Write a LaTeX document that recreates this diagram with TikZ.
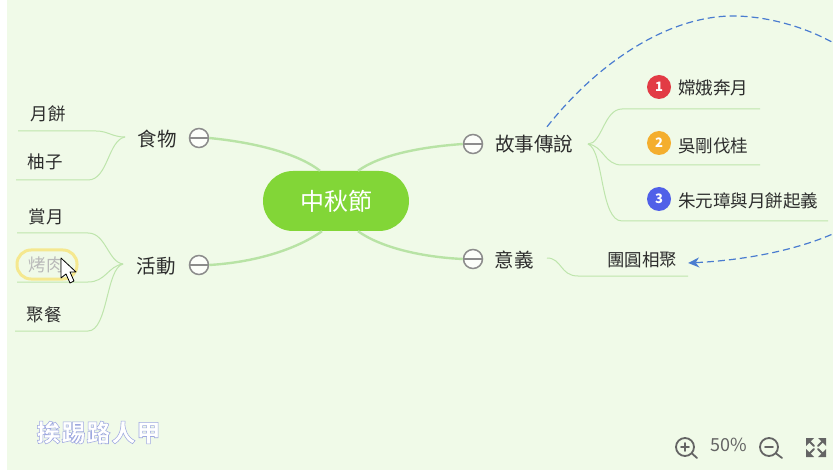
\documentclass[tikz,border=0pt]{standalone}
\usepackage{fontspec}
\setmainfont{Noto Sans CJK TC}
\newfontfamily\markface[LetterSpace=4]{Noto Sans CJK TC}
\usetikzlibrary{arrows.meta,calc}
\definecolor{paper}{RGB}{240,250,232}
\definecolor{hubgreen}{RGB}{130,214,55}
\definecolor{limb}{RGB}{184,227,165}
\definecolor{twigc}{RGB}{190,229,172}
\definecolor{inktext}{RGB}{45,45,45}
\definecolor{linkblue}{RGB}{74,124,208}
\definecolor{badgered}{RGB}{226,59,69}
\definecolor{badgeamber}{RGB}{244,174,46}
\definecolor{badgeblue}{RGB}{80,96,232}
\definecolor{haloyellow}{RGB}{245,232,143}
\definecolor{toolgray}{RGB}{100,100,100}
\definecolor{foldgray}{RGB}{140,140,140}

\begin{document}
\begin{tikzpicture}[x=1pt,y=-1pt,
hub/.style={rectangle,rounded corners=30pt,fill=hubgreen,text=white,minimum width=146pt,minimum height=60pt,font=\fontsize{24}{24}\selectfont},
limbline/.style={limb,line width=2.4pt},
twig/.style={twigc,line width=1pt},
fold/.style={circle,draw=foldgray,line width=1.5pt,fill=white!80!paper,minimum size=19pt,inner sep=0pt,path picture={\draw[foldgray,line width=1.2pt] (path picture bounding box.west) -- (path picture bounding box.east);}},
topic/.style={text=inktext,font=\fontsize{19.5}{20}\selectfont,inner sep=2pt},
leaf/.style={text=inktext,font=\fontsize{17.5}{18}\selectfont,inner sep=2pt},
badge/.style={circle,minimum size=24pt,inner sep=0pt,text=white,font=\fontsize{13}{13}\bfseries\selectfont},
link/.style={linkblue,line width=1.2pt,dash pattern=on 7pt off 4pt},
markfont/.style={font=\markface\fontsize{24}{24}\bfseries\selectfont},
tool/.style={toolgray,line width=1.8pt,line cap=round}]
\useasboundingbox (0,0) rectangle (840,470);
\fill[paper] (7,0) rectangle (833,470);

% centre and main branches
\node[hub] (mid) at (336,201) {中秋節};
\node[fold] (foodfold) at (199,138) {};
\node[fold] (doingfold) at (199,265) {};
\node[fold] (storyfold) at (473,144) {};
\node[fold] (sensefold) at (473,259) {};
\draw[limbline] (foodfold.east) .. controls (260,143) and (300,155) .. ([xshift=-16pt]mid.north);
\draw[limbline] (doingfold.east) .. controls (260,262) and (300,247) .. ([xshift=-14pt]mid.south);
\draw[limbline] (storyfold.west) .. controls (420,147) and (380,155) .. ([xshift=22pt]mid.north);
\draw[limbline] (sensefold.west) .. controls (420,257) and (380,247) .. ([xshift=22pt]mid.south);

\node[topic] (food) at (157,139) {食物};
\node[topic] (doing) at (156,266) {活動};
\node[topic] (story) at (534,144) {故事傳說};
\node[topic] (sense) at (514,260) {意義};

% left leaves
\node[leaf] (cake) at (48,114) {月餅};
\node[leaf] (pomelo) at (45,162) {柚子};
\node[leaf] (moon) at (46,217) {賞月};
\node[leaf,text=gray!55] (bbq) at (46,265) {烤肉};
\node[leaf] (dinner) at (44,315) {聚餐};
\coordinate (foodfork) at (125,137);
\coordinate (doingfork) at (123,264);
\coordinate (cakeend) at (18,131);
\coordinate (pomeloend) at (16,180);
\coordinate (moonend) at (17,233);
\coordinate (bbqend) at (17,282);
\coordinate (dinnerend) at (15,331);
\draw[twig] (foodfork) .. controls (112,137) and (108,131) .. (96,131) -- (cakeend);
\draw[twig] (foodfork) .. controls (108,140) and (108,180) .. (88,180) -- (pomeloend);
\draw[twig] (doingfork) .. controls (108,262) and (106,233) .. (88,233) -- (moonend);
\draw[twig] (doingfork) .. controls (108,266) and (106,282) .. (88,282) -- (bbqend);
\draw[twig] (doingfork) .. controls (106,268) and (108,331) .. (88,331) -- (dinnerend);
\draw[haloyellow,line width=3pt,rounded corners=14pt] (17,250) rectangle (77,279);

% right leaves
\node[badge,fill=badgered] (one) at (659,87) {1};
\node[badge,fill=badgeamber] (two) at (659,143) {2};
\node[badge,fill=badgeblue] (three) at (659,199) {3};
\node[leaf,anchor=west] (flight) at (676,88) {嫦娥奔月};
\node[leaf,anchor=west] (tree) at (676,146) {吳剛伐桂};
\node[leaf,anchor=west] (rebel) at (676,201) {朱元璋與月餅起義};
\node[leaf] (union) at (642,260) {團圓相聚};
\coordinate (storyfork) at (588,144);
\coordinate (flightend) at (760,109);
\coordinate (treeend) at (760,165);
\coordinate (rebelend) at (828,221);
\coordinate (unionstart) at (547,258);
\coordinate (unionend) at (688,276);
\draw[twig] (storyfork) .. controls (602,144) and (604,109) .. (622,109) -- (flightend);
\draw[twig] (storyfork) .. controls (604,146) and (604,165) .. (622,165) -- (treeend);
\draw[twig] (storyfork) .. controls (604,150) and (600,221) .. (622,221) -- (rebelend);
\draw[twig] (unionstart) .. controls (562,258) and (560,276) .. (578,276) -- (unionend);

% dashed relation, runs out past the right edge
\coordinate (linkturn) at (905,150);
\draw[link,-{Stealth[length=11pt,width=10pt]}] ([xshift=13pt,yshift=6pt]story.north) .. controls (600,60) and (670,16) .. (733,16) .. controls (800,16) and (905,60) .. (linkturn) .. controls (905,225) and (790,258) .. ([xshift=9pt,yshift=-3pt]union.east);
\fill[white] (833,0) rectangle (840,470);

% cursor
\fill[white,draw=black,line width=.8pt,line join=round] (61,258) -- (61,278) -- (66,274) -- (70,283) -- (74,281) -- (70,272) -- (76,272) -- cycle;

% watermark, white letters with a lavender edge
\node[markfont,text=white] (mark) at (98.5,432.5) {\special{pdf:code 0.62 0.66 0.88 RG 0.55 w 2 Tr}挨踢路人甲\special{pdf:code 0 Tr}};

% zoom tools
\node[text=toolgray,font=\fontsize{18}{18}\selectfont] (percent) at (729,445) {50\%};
\draw[tool] (685,447) circle (9);
\draw[tool] (692,453.5) -- (697,458) (681,447) -- (689,447) (685,443) -- (685,451);
\draw[tool] (769,447) circle (9);
\draw[tool] (776,453.5) -- (782,458) (765,447) -- (773,447);
\fill[toolgray] (806,438) -- (814,438) -- (806,446) -- cycle (826,438) -- (818,438) -- (826,446) -- cycle (806,457) -- (814,457) -- (806,449) -- cycle (826,457) -- (818,457) -- (826,449) -- cycle;
\draw[tool] (808,440) -- (814,446) (824,440) -- (818,446) (808,455) -- (814,449) (824,455) -- (818,449);
\end{tikzpicture}
\end{document}
